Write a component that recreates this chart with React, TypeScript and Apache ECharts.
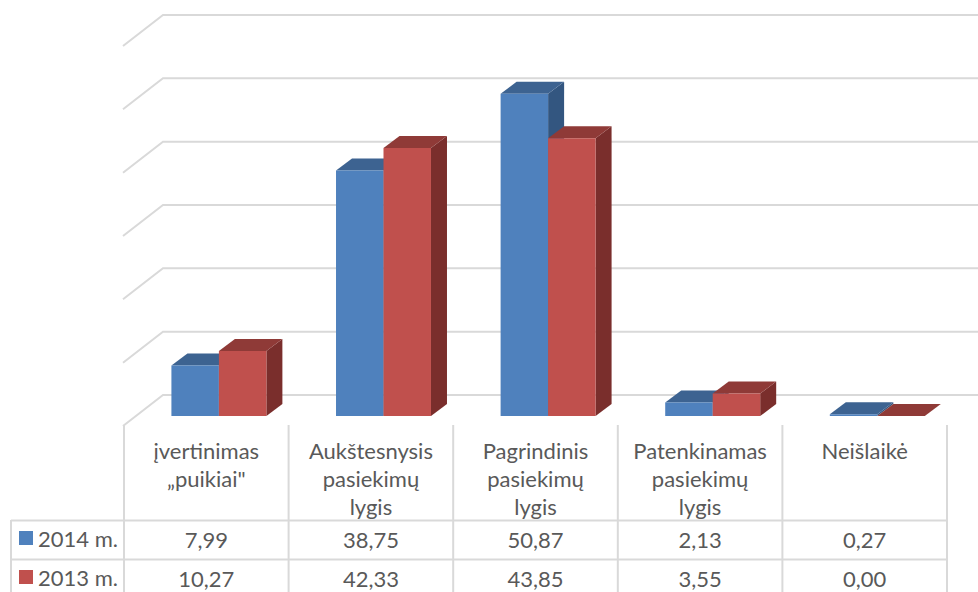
import React, { useEffect, useRef } from "react";
import * as echarts from "echarts";

const categories = ["įvertinimas\n„puikiai\"", "Aukštesnysis\npasiekimų\nlygis", "Pagrindinis\npasiekimų\nlygis", "Patenkinamas\npasiekimų\nlygis", "Neišlaikė"];
const values2014 = [7.99, 38.75, 50.87, 2.13, 0.27];
const values2013 = [10.27, 42.33, 43.85, 3.55, 0.0];
const gridValues = [0, 10, 20, 30, 40, 50, 60];

const FONT = "Lato";
const TEXT = "#595959";
const LINE = "#d9d9d9";

function barRenderer(front: string, top: string, side: string, slot: number) {
  return (params: any, api: any) => {
    const i = api.value(0);
    const v = api.value(1);
    const band = api.size([1, 0])[0];
    const [cx, yTop] = api.coord([i, v]);
    const [, yBase] = api.coord([i, 0]);
    const w = band * 0.2885;
    const x0 = cx + 12.6 + (slot - 1) * w;
    const x1 = x0 + w;
    const dx = 16;
    const dy = 12;
    return {
      type: "group",
      children: [
        { type: "polygon", shape: { points: [[x1, yTop], [x1 + dx, yTop - dy], [x1 + dx, yBase - dy], [x1, yBase]] }, style: { fill: side } },
        { type: "polygon", shape: { points: [[x0, yTop], [x0 + dx, yTop - dy], [x1 + dx, yTop - dy], [x1, yTop]] }, style: { fill: top } },
        { type: "rect", shape: { x: x0, y: yTop, width: w, height: yBase - yTop }, style: { fill: front } },
      ],
    };
  };
}

function gridRenderer(params: any, api: any) {
  const [, y] = api.coord([0, api.value(0)]);
  const left = params.coordSys.x - 1;
  return {
    type: "polyline",
    shape: { points: [[left, y + 10], [left + 40, y - 21], [api.getWidth(), y - 21]] },
    style: { fill: "none", stroke: LINE, lineWidth: 2 },
  };
}

function cellRenderer(yPos: number) {
  return (params: any, api: any) => {
    const [cx] = api.coord([api.value(0), 0]);
    return {
      type: "text",
      x: cx,
      y: yPos,
      style: {
        text: api.value(1).toFixed(2).replace(".", ","),
        align: "center",
        verticalAlign: "middle",
        fontFamily: FONT,
        fontSize: 22,
        fill: TEXT,
      },
    };
  };
}

const tableLeft = 124;
const tableRight = 947;
const verticals = [0, 1, 2, 3, 4, 5].map((k) => tableLeft + (k * (tableRight - tableLeft)) / 5);
const toPairs = (a: number[]) => a.map((v, i) => [i, v]);

export default function App() {
  const ref = useRef<HTMLDivElement>(null);
  useEffect(() => {
    document.body.style.margin = "0";
    const chart = echarts.init(ref.current!, undefined, { renderer: "svg" });
    const lineStyle = { stroke: LINE, lineWidth: 2 };
    chart.setOption({
      animation: false,
      backgroundColor: "#ffffff",
      grid: { left: tableLeft, right: 978 - tableRight, top: 36, bottom: 176 },
      xAxis: {
        type: "category",
        data: categories,
        axisLine: { show: false },
        axisTick: { show: false },
        axisLabel: { interval: 0, margin: 20, fontFamily: FONT, fontSize: 22, color: TEXT, lineHeight: 28, verticalAlign: "top" },
      },
      yAxis: { type: "value", min: 0, max: 60, interval: 10, show: false, splitLine: { show: false } },
      legend: {
        orient: "vertical",
        left: 19,
        top: 525,
        padding: 0,
        itemWidth: 14,
        itemHeight: 14,
        itemGap: 13,
        icon: "rect",
        data: ["2014 m.", "2013 m."],
        textStyle: { fontFamily: FONT, fontSize: 22, color: TEXT, lineHeight: 26 },
      },
      graphic: [
        ...verticals.map((x) => ({ type: "line", shape: { x1: x, y1: 425, x2: x, y2: 592 }, style: lineStyle })),
        { type: "line", shape: { x1: 11, y1: 520.5, x2: tableRight, y2: 520.5 }, style: lineStyle },
        { type: "line", shape: { x1: 11, y1: 559.5, x2: tableRight, y2: 559.5 }, style: lineStyle },
        { type: "line", shape: { x1: 11, y1: 520, x2: 11, y2: 592 }, style: lineStyle },
      ],
      series: [
        { type: "custom", name: "grid", silent: true, data: gridValues.map((v) => [v]), encode: { y: 0 }, renderItem: gridRenderer, z: 1 },
        { type: "custom", name: "2014 m.", itemStyle: { color: "#4f81bd" }, data: toPairs(values2014), encode: { x: 0, y: 1 }, renderItem: barRenderer("#4f81bd", "#3d6391", "#335680", 0), z: 2 },
        { type: "custom", name: "2013 m.", itemStyle: { color: "#c0504d" }, data: toPairs(values2013), encode: { x: 0, y: 1 }, renderItem: barRenderer("#c0504d", "#8f3a37", "#7a2e2c", 1), z: 3 },
        { type: "custom", name: "row2014", data: toPairs(values2014), encode: { x: 0, y: 1 }, renderItem: cellRenderer(539), z: 4 },
        { type: "custom", name: "row2013", data: toPairs(values2013), encode: { x: 0, y: 1 }, renderItem: cellRenderer(578), z: 4 },
      ],
    });
    return () => chart.dispose();
  }, []);
  return <div ref={ref} style={{ position: "absolute", left: 0, top: 0, width: 978, height: 592 }} />;
}
